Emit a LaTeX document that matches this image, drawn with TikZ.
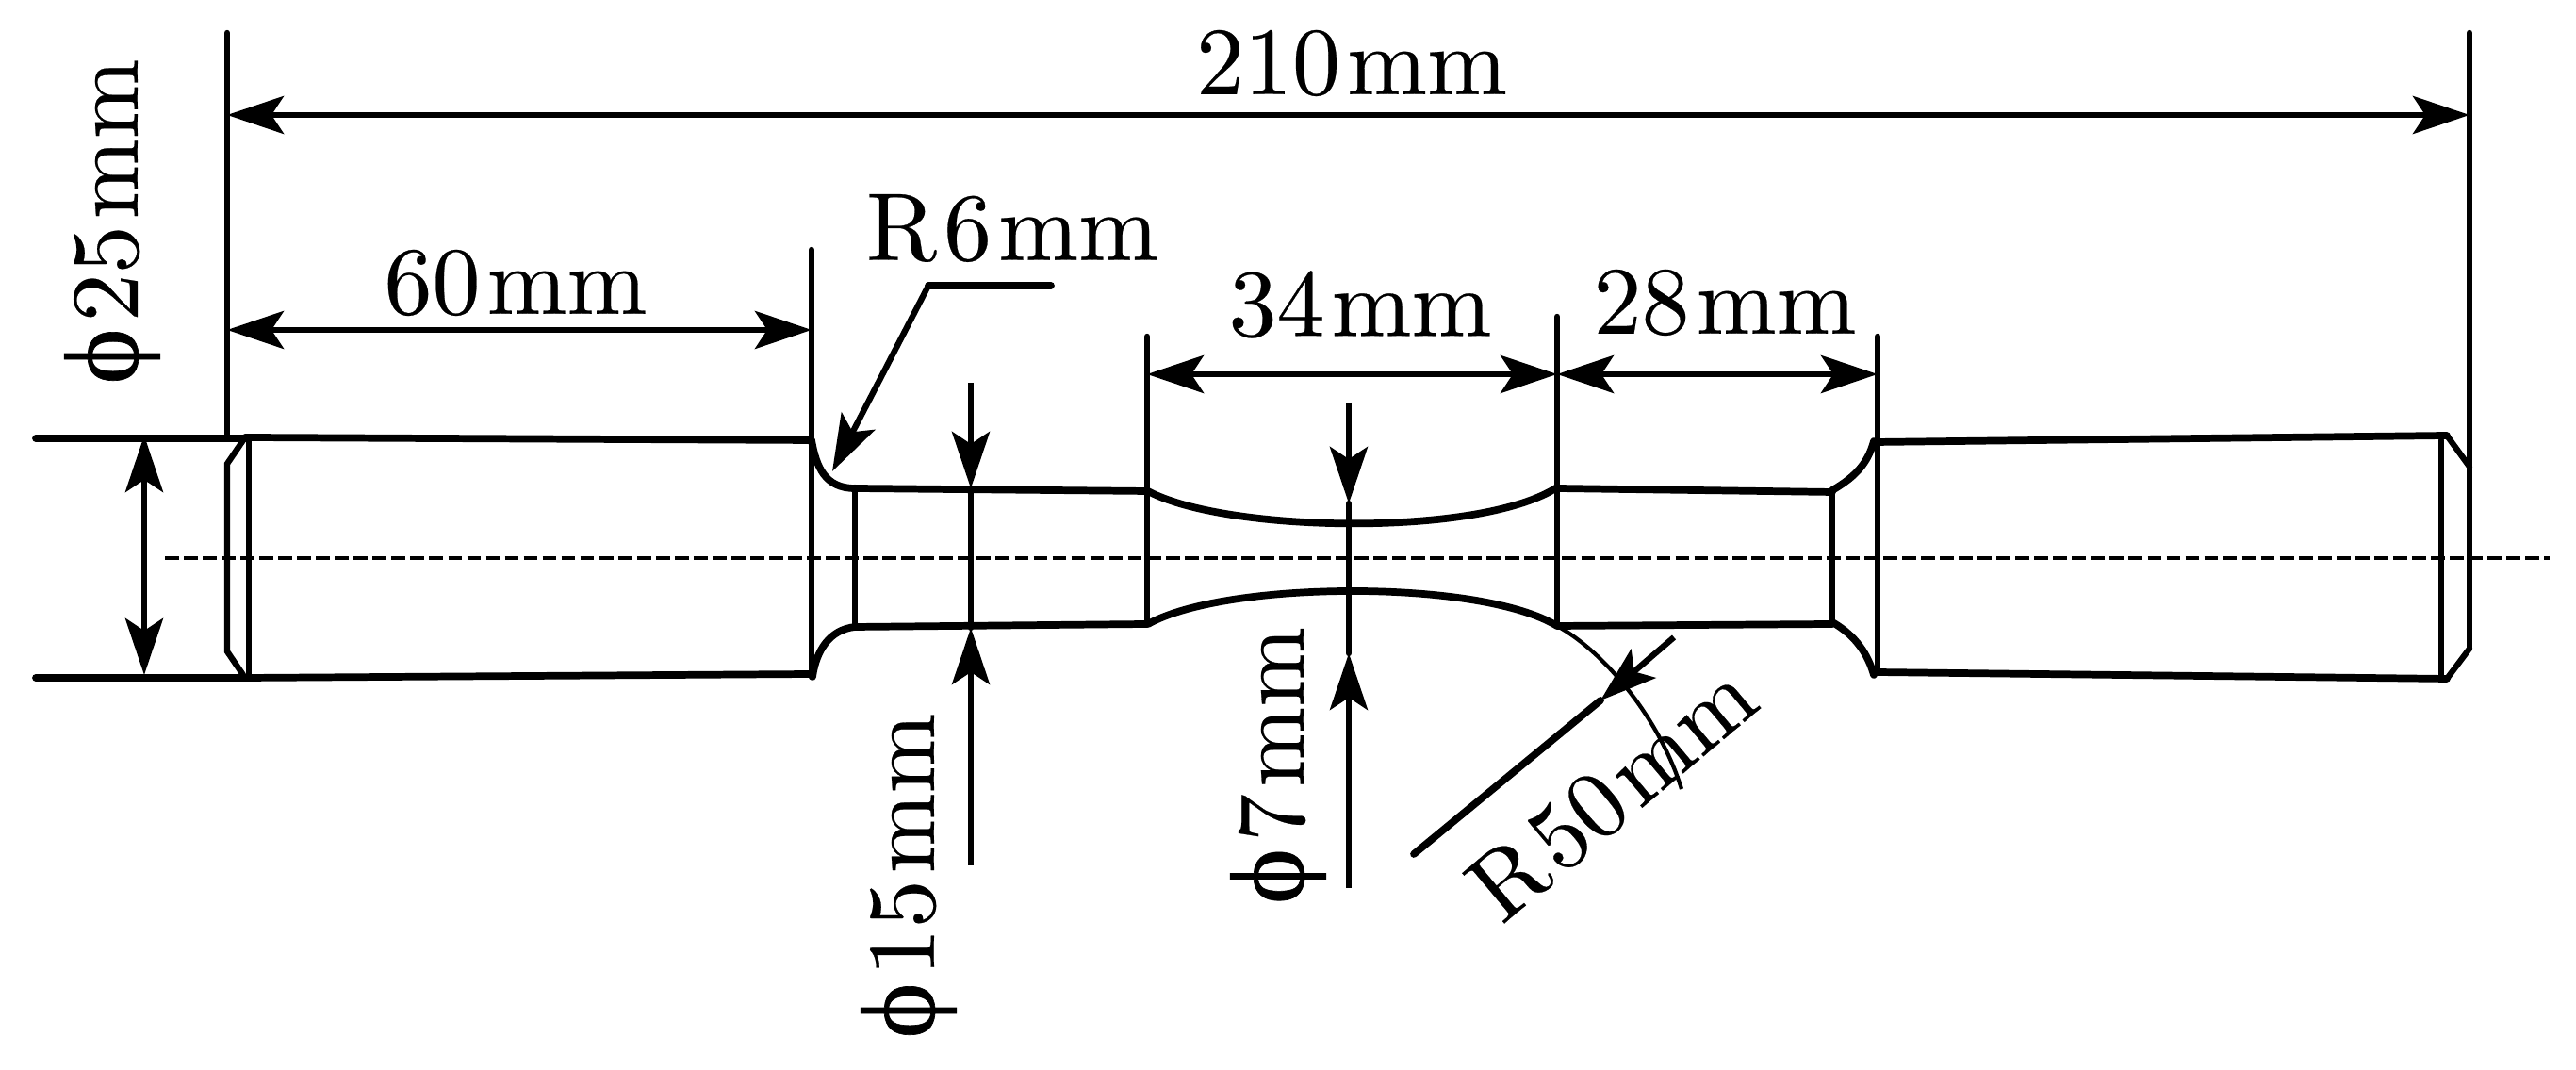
\documentclass[tikz,border=0pt]{standalone}
\usepackage{fontspec}
\usetikzlibrary{arrows.meta}
\newfontfamily\dimfont{lmroman10-regular}[Extension=.otf,FakeBold=0.25]
\newfontfamily\phifont{Liberation Serif}[Scale=1.1,FakeBold=0.6]
\newcommand{\gp}{\kern.07em}
\newcommand{\dia}{{\phifont\symbol{"03D5}}}
\tikzset{
  outline/.style={line width=2.2pt,line cap=round},
  thinline/.style={line width=1.8pt,line cap=round},
  dimline/.style={line width=1.8pt,{Stealth[length=6mm,width=4mm,inset=1.3mm]}-{Stealth[length=6mm,width=4mm,inset=1.3mm]}},
  dimarrow/.style={line width=1.8pt,-{Stealth[length=6mm,width=4mm,inset=1.3mm]}},
  axisline/.style={line width=1.3pt,dash pattern=on 4.2pt off 1.5pt},
  dimtext/.style={font=\fontsize{29}{32}\dimfont,inner sep=0pt}
}
\begin{document}
\begin{tikzpicture}
\useasboundingbox (0,0) rectangle (27.33,11.35);

% dimension ends
\coordinate (lefttop) at (2.41,11.0);
\coordinate (righttop) at (26.2,11.0);
\coordinate (wl) at (2.41,10.13);
\coordinate (wr) at (26.2,10.13);
\coordinate (al) at (2.41,7.85);
\coordinate (ae) at (8.61,7.85);
\coordinate (bl) at (12.17,7.38);
\coordinate (bm) at (16.52,7.38);
\coordinate (cr) at (19.92,7.38);
\coordinate (ltop) at (1.53,6.73);
\coordinate (lbot) at (1.53,4.19);

% long extension lines
\draw [thinline] (lefttop) -- (2.41,6.7);
\draw [thinline] (righttop) -- (26.2,4.47);
\draw [thinline] (8.61,8.7) -- (8.61,4.17);
\draw [thinline] (12.17,7.78) -- (12.17,4.73);
\draw [thinline] (16.52,7.99) -- (16.52,4.71);
\draw [thinline] (19.92,7.78) -- (19.92,4.22);

% left end
\draw [outline] (0.38,6.7) -- (2.6,6.7);
\draw [outline] (0.38,4.16) -- (2.62,4.16);
\draw [thinline] (2.58,6.68) -- (2.41,6.43) -- (2.41,4.44) -- (2.58,4.19);
\draw [thinline] (2.64,6.7) -- (2.64,4.16);

% body
\draw [outline] (2.6,6.71) -- (8.61,6.68);
\draw [outline] (2.62,4.16) -- (8.62,4.2);
\draw [outline] (8.61,6.68) .. controls (8.66,6.4) and (8.75,6.17) .. (9.07,6.17) -- (12.17,6.14);
\draw [outline] (8.62,4.17) .. controls (8.66,4.45) and (8.8,4.67) .. (9.07,4.7) -- (12.17,4.73);
\draw [thinline] (9.07,6.18) -- (9.07,4.7);

% waist
\draw [outline] (12.18,6.14) .. controls (13.0,5.7) and (15.7,5.65) .. (16.52,6.18);
\draw [outline] (12.18,4.73) .. controls (13.0,5.19) and (15.7,5.21) .. (16.52,4.71);

% right part
\draw [outline] (16.52,6.17) -- (19.44,6.13);
\draw [outline] (16.52,4.71) -- (19.44,4.73);
\draw [thinline] (19.44,6.13) -- (19.44,4.75);
\draw [outline] (19.44,6.15) .. controls (19.7,6.3) and (19.82,6.45) .. (19.88,6.67);
\draw [outline] (19.44,4.75) .. controls (19.7,4.6) and (19.82,4.4) .. (19.88,4.19);
\draw [outline] (19.9,6.66) -- (25.96,6.73);
\draw [outline] (19.9,4.22) -- (25.96,4.15);
\draw [thinline] (25.9,6.68) -- (25.9,4.17);
\draw [thinline] (25.96,6.73) -- (26.2,6.4);
\draw [thinline] (26.2,4.47) -- (25.96,4.15);

% axis
\draw [axisline] (1.75,5.43) -- (27.05,5.43);

% dimensions
\draw [dimline] (wl) -- (wr);
\node (len) [dimtext] at (14.34,10.68) {210\gp mm};
\draw [dimline] (al) -- (ae);
\node (grip) [dimtext] at (5.47,8.35) {60\gp mm};
\draw [dimline] (bl) -- (bm);
\node (gauge) [dimtext] at (14.43,8.12) {34\gp mm};
\draw [dimline] (bm) -- (cr);
\node (neck) [dimtext] at (18.3,8.14) {28\gp mm};
\draw [dimline] (ltop) -- (lbot);
\node (dbig) [dimtext,rotate=90] at (1.19,9.0) {\dia\gp 25\gp mm};

% R6
\node (rsmall) [dimtext] at (10.74,8.93) {R\gp 6\gp mm};
\coordinate (ra) at (11.15,8.32);
\coordinate (rb) at (9.85,8.32);
\coordinate (rc) at (8.83,6.35);
\draw [outline] (ra) -- (rb);
\draw [dimarrow] (rb) -- (rc);

% d15
\coordinate (fa) at (10.3,7.29);
\coordinate (fb) at (10.3,6.17);
\coordinate (fc) at (10.3,2.17);
\coordinate (fd) at (10.3,4.69);
\draw [dimarrow] (fa) -- (fb);
\draw [thinline] (fb) -- (fd);
\draw [dimarrow] (fc) -- (fd);
\node (dmid) [dimtext,rotate=90] at (9.64,2.06) {\dia\gp 15\gp mm};

% d7
\coordinate (ga) at (14.31,7.08);
\coordinate (gb) at (14.31,6.01);
\coordinate (gc) at (14.31,1.93);
\coordinate (gd) at (14.31,4.42);
\draw [dimarrow] (ga) -- (gb);
\draw [thinline] (gb) -- (gd);
\draw [dimarrow] (gc) -- (gd);
\node (dsmall) [dimtext,rotate=90] at (13.56,3.23) {\dia\gp 7\gp mm};

% R50
\coordinate (ha) at (17.76,4.59);
\coordinate (hb) at (16.98,3.92);
\coordinate (hc) at (15.0,2.29);
\draw [line width=1.2pt] (16.52,4.71) .. controls (17.0,4.45) and (17.6,3.75) .. (17.84,2.98);
\draw [dimarrow] (ha) -- (hb);
\draw [outline] (hb) -- (hc);
\node (rbig) [dimtext,rotate=40] at (17.1,2.95) {R\gp 50\gp mm};
\end{tikzpicture}
\end{document}
